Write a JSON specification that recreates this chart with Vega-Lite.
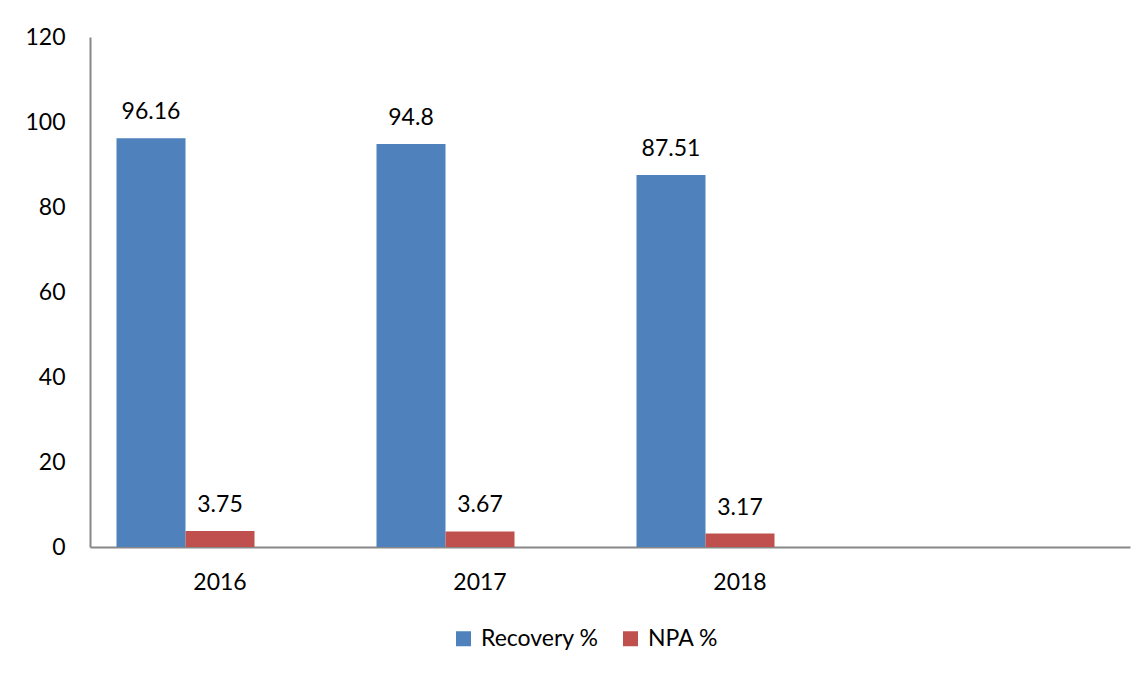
{
  "$schema": "https://vega.github.io/schema/vega-lite/v6.json",
  "autosize": {"type": "none"},
  "padding": {"left": 90, "top": 37, "right": 17, "bottom": 128},
  "width": 1040,
  "height": 510,
  "background": "white",
  "config": {
    "view": {"stroke": null},
    "font": "Lato",
    "axis": {"labelFont": "Lato", "labelFontSize": 23, "labelColor": "#000000", "grid": false, "ticks": false, "domainColor": "#888888", "domainWidth": 2, "title": null}
  },
  "data": {
    "values": [
      {"year": "2016", "series": "Recovery %", "value": 96.16},
      {"year": "2016", "series": "NPA %", "value": 3.75},
      {"year": "2017", "series": "Recovery %", "value": 94.8},
      {"year": "2017", "series": "NPA %", "value": 3.67},
      {"year": "2018", "series": "Recovery %", "value": 87.51},
      {"year": "2018", "series": "NPA %", "value": 3.17}
    ]
  },
  "encoding": {
    "x": {
      "field": "year", "type": "nominal",
      "scale": {"domain": ["2016", "2017", "2018", " "], "paddingInner": 0, "paddingOuter": 0},
      "axis": {"labelAngle": 0, "labelPadding": 24, "title": null}
    },
    "xOffset": {
      "field": "series", "type": "nominal",
      "scale": {"domain": ["Recovery %", "NPA %", "_"], "paddingInner": 0, "paddingOuter": 0.384}
    },
    "y": {
      "field": "value", "type": "quantitative",
      "scale": {"domain": [0, 120], "nice": false},
      "axis": {"values": [0, 20, 40, 60, 80, 100, 120], "labelPadding": 25, "title": null}
    }
  },
  "layer": [
    {
      "mark": {"type": "bar"},
      "encoding": {
        "color": {
          "field": "series", "type": "nominal",
          "scale": {"domain": ["Recovery %", "NPA %"], "range": ["#4F81BD", "#C0504D"]},
          "legend": {
            "title": null, "orient": "none", "direction": "horizontal",
            "legendX": 362, "legendY": 590,
            "symbolType": "square", "symbolSize": 225, "symbolStrokeWidth": 0,
            "labelFont": "Lato", "labelFontSize": 23, "labelColor": "#000000",
            "labelOffset": 6, "columnPadding": 20
          }
        }
      }
    },
    {
      "mark": {"type": "text", "baseline": "bottom", "dy": -14, "fontSize": 23, "font": "Lato", "color": "#000000"},
      "encoding": {"text": {"field": "value", "type": "quantitative"}}
    }
  ]
}
